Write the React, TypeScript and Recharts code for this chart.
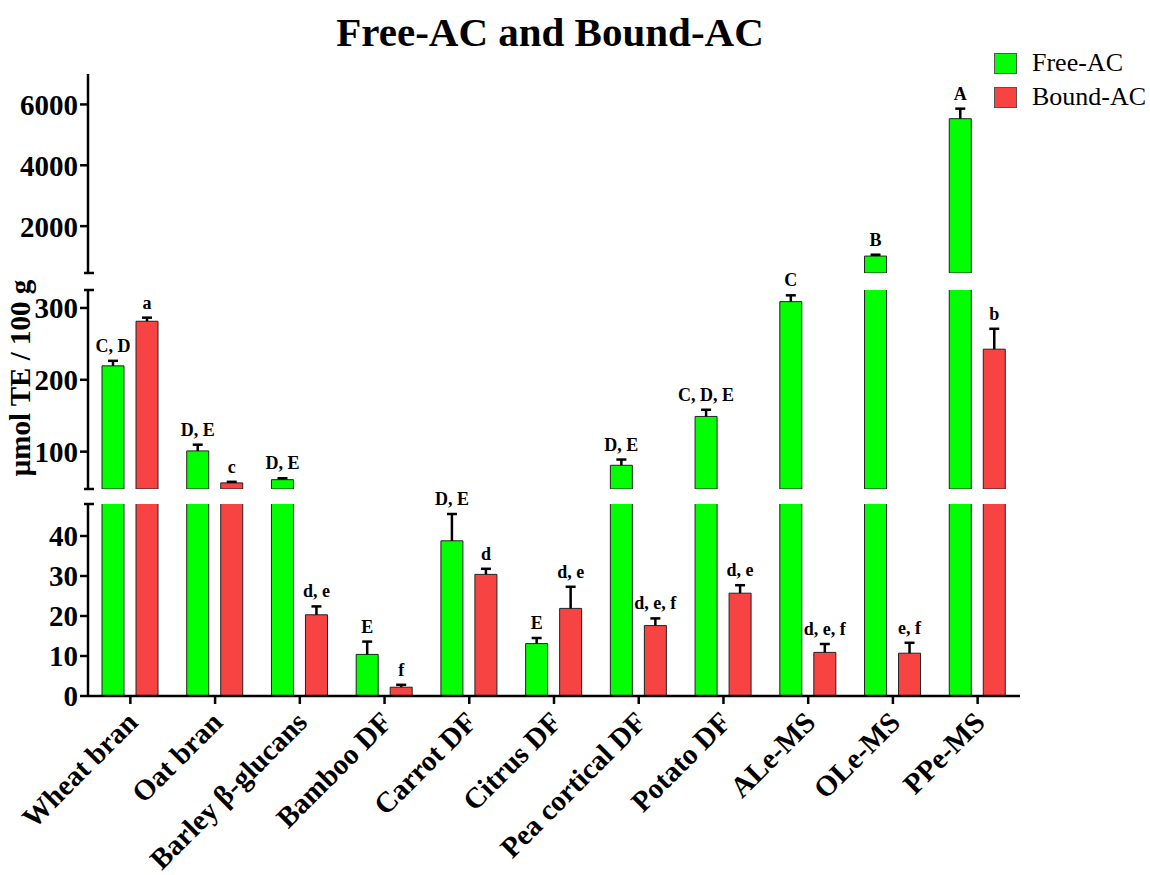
import React from 'react';
import { BarChart, Bar, XAxis, YAxis, LabelList, Legend } from 'recharts';

// Antioxidant capacity per fibre source (µmol TE / 100 g), mean and SD
const categories = [
  'Wheat bran',
  'Oat bran',
  'Barley β-glucans',
  'Bamboo DF',
  'Carrot DF',
  'Citrus DF',
  'Pea cortical DF',
  'Potato DF',
  'ALe-MS',
  'OLe-MS',
  'PPe-MS',
];
const freeAC = [219.4, 101, 61, 10.4, 38.8, 13.1, 81, 149, 308.8, 1016, 5531];
const freeSD = [7, 8.7, 2, 3.2, 6.7, 1.4, 8, 9.3, 8.8, 45, 330];
const boundAC = [281.5, 56.5, 20.3, 2.2, 30.4, 21.9, 17.6, 25.7, 10.9, 10.7, 242.6];
const boundSD = [5, 1.5, 2.1, 0.6, 1.4, 5.4, 1.8, 2, 2.1, 2.6, 28.4];
const freeLetters = ['C, D', 'D, E', 'D, E', 'E', 'D, E', 'E', 'D, E', 'C, D, E', 'C', 'B', 'A'];
const boundLetters = ['a', 'c', 'd, e', 'f', 'd', 'd, e', 'd, e, f', 'd, e', 'd, e, f', 'e, f', 'b'];

const FONT = '"Liberation Serif", "Times New Roman", serif';
const GREEN = '#00FF00';
const RED = '#F84343';
const OUTLINE = '#222';
const LEGEND_ORDER = ['Free-AC', 'Bound-AC'];

const CHART_W = 1150;
const CHART_H = 875;
const PLOT_LEFT = 88;
const PLOT_RIGHT = 1020;
const Y_AXIS_W = 80;
const X_AXIS_H = 170;

type Segment = {
  name: string;
  domain: [number, number];
  ticks: number[];
  caps: number[];
  top: number;
  bottom: number;
  showX: boolean;
};

// the y axis is broken into three stacked pieces, each its own chart
const segments: Segment[] = [
  { name: 'high', domain: [460, 7000], ticks: [2000, 4000, 6000], caps: [460], top: 74, bottom: 273, showX: false },
  { name: 'mid', domain: [48, 325], ticks: [100, 200, 300], caps: [48, 325], top: 290, bottom: 489, showX: false },
  { name: 'low', domain: [0, 48], ticks: [0, 10, 20, 30, 40], caps: [48], top: 504, bottom: 696, showX: true },
];

// a bar that ends below a segment is left out of that segment entirely;
// the row index rides along so the labels can find their SD and letters
const rowsFor = (seg: Segment) =>
  categories.map((name, i) => ({
    name,
    row: i,
    free: freeAC[i] >= seg.domain[0] ? freeAC[i] : null,
    bound: boundAC[i] >= seg.domain[0] ? boundAC[i] : null,
  }));

// error bar (upper half only) plus significance letters, drawn only in the
// segment that holds the bar's top
const sigLabel = (seg: Segment, values: number[], sds: number[], letters: string[]) => (props: any) => {
  const i = props.value;
  if (typeof i !== 'number') return null;
  const v = values[i];
  if (v < seg.domain[0] || v > seg.domain[1]) return null;
  const box = props.viewBox && props.viewBox.height != null ? props.viewBox : props;
  const { x, y, width, height } = box;
  // bars start from the lower end of the segment's domain
  const pxPerUnit = height / (v - seg.domain[0]);
  const errTop = y - sds[i] * pxPerUnit;
  const cx = x + width / 2;
  return (
    <g>
      <line x1={cx} x2={cx} y1={y} y2={errTop} stroke="#000" strokeWidth={2.5} />
      <line x1={cx - 5} x2={cx + 5} y1={errTop} y2={errTop} stroke="#000" strokeWidth={2.5} />
      <text
        x={cx}
        y={errTop - 9}
        textAnchor="middle"
        fontFamily={FONT}
        fontWeight="bold"
        fontSize={18}
        fill="#000"
      >
        {letters[i]}
      </text>
    </g>
  );
};

const yTick = (seg: Segment) => (props: any) => {
  const { y, payload } = props;
  const v = payload.value;
  if (seg.caps.includes(v)) {
    return <line x1={PLOT_LEFT - 4} x2={PLOT_LEFT + 6} y1={y} y2={y} stroke="#000" strokeWidth={2.5} />;
  }
  return (
    <g>
      <line x1={PLOT_LEFT - 8} x2={PLOT_LEFT} y1={y} y2={y} stroke="#000" strokeWidth={2.5} />
      <text
        x={PLOT_LEFT - 10}
        y={y}
        dy="0.36em"
        textAnchor="end"
        fontFamily={FONT}
        fontWeight="bold"
        fontSize={29}
        fill="#000"
      >
        {v}
      </text>
    </g>
  );
};

const XTick = (props: any) => {
  const { x, y, payload } = props;
  const ax = x + 9;
  const ay = y + 18;
  return (
    <text
      x={ax}
      y={ay}
      transform={`rotate(-45 ${ax} ${ay})`}
      textAnchor="end"
      fontFamily={FONT}
      fontWeight="bold"
      fontSize={29}
      fill="#000"
    >
      {payload.value}
    </text>
  );
};

const legendContent = (props: any) => {
  const items = [...(props.payload || [])].sort(
    (a: any, b: any) => LEGEND_ORDER.indexOf(a.value) - LEGEND_ORDER.indexOf(b.value)
  );
  return (
    <div>
      {items.map((item: any) => (
        <div key={item.value} style={{ display: 'flex', alignItems: 'center', height: 34 }}>
          <span
            style={{
              display: 'inline-block',
              width: 23,
              height: 21,
              background: item.color,
              border: '1px solid #555',
              boxSizing: 'border-box',
              marginRight: 15,
            }}
          />
          <span style={{ fontFamily: FONT, fontSize: 26, color: '#000', lineHeight: '26px' }}>{item.value}</span>
        </div>
      ))}
    </div>
  );
};

function SegmentChart({ seg }: { seg: Segment }) {
  const margin = {
    top: seg.top,
    left: PLOT_LEFT - Y_AXIS_W,
    right: CHART_W - PLOT_RIGHT,
    bottom: seg.showX ? CHART_H - seg.bottom - X_AXIS_H : CHART_H - seg.bottom,
  };
  return (
    <div style={{ position: 'absolute', left: 0, top: 0 }}>
      <BarChart width={CHART_W} height={CHART_H} data={rowsFor(seg)} margin={margin} barGap={12}>
        <XAxis
          dataKey="name"
          hide={!seg.showX}
          height={X_AXIS_H}
          interval={0}
          axisLine={{ stroke: '#000', strokeWidth: 2.5 }}
          tickLine={{ stroke: '#000', strokeWidth: 2.5 }}
          tickSize={8}
          tick={<XTick />}
        />
        <YAxis
          type="number"
          width={Y_AXIS_W}
          domain={seg.domain}
          allowDataOverflow
          ticks={[...seg.ticks, ...seg.caps].sort((a, b) => a - b)}
          interval={0}
          axisLine={{ stroke: '#000', strokeWidth: 2.5 }}
          tickLine={false}
          tickSize={7}
          tickMargin={3}
          tick={yTick(seg)}
        />
        {seg.name === 'high' && (
          <Legend
            layout="vertical"
            align="center"
            verticalAlign="middle"
            content={legendContent}
            wrapperStyle={{ left: 994, top: 46, width: 'auto' }}
          />
        )}
        <Bar
          dataKey="free"
          name="Free-AC"
          fill={GREEN}
          stroke={OUTLINE}
          strokeWidth={1}
          barSize={22}
          isAnimationActive={false}
        >
          <LabelList dataKey="row" content={sigLabel(seg, freeAC, freeSD, freeLetters)} />
        </Bar>
        <Bar
          dataKey="bound"
          name="Bound-AC"
          fill={RED}
          stroke={OUTLINE}
          strokeWidth={1}
          barSize={22}
          isAnimationActive={false}
        >
          <LabelList dataKey="row" content={sigLabel(seg, boundAC, boundSD, boundLetters)} />
        </Bar>
      </BarChart>
    </div>
  );
}

export default function App() {
  return (
    <div style={{ position: 'absolute', left: 0, top: 0, width: CHART_W, height: CHART_H, background: '#fff' }}>
      <div
        style={{
          position: 'absolute',
          left: 0,
          top: 12,
          width: 1100,
          textAlign: 'center',
          fontFamily: FONT,
          fontWeight: 'bold',
          fontSize: 41,
          lineHeight: '41px',
          color: '#000',
        }}
      >
        Free-AC and Bound-AC
      </div>
      <div
        style={{
          position: 'absolute',
          left: 20 - 160,
          top: 378 - 20,
          width: 320,
          height: 40,
          lineHeight: '40px',
          textAlign: 'center',
          transform: 'rotate(-90deg)',
          fontFamily: FONT,
          fontWeight: 'bold',
          fontSize: 29,
          color: '#000',
          whiteSpace: 'nowrap',
        }}
      >
        μmol TE / 100 g
      </div>
      {segments.map((seg) => (
        <SegmentChart key={seg.name} seg={seg} />
      ))}
    </div>
  );
}
